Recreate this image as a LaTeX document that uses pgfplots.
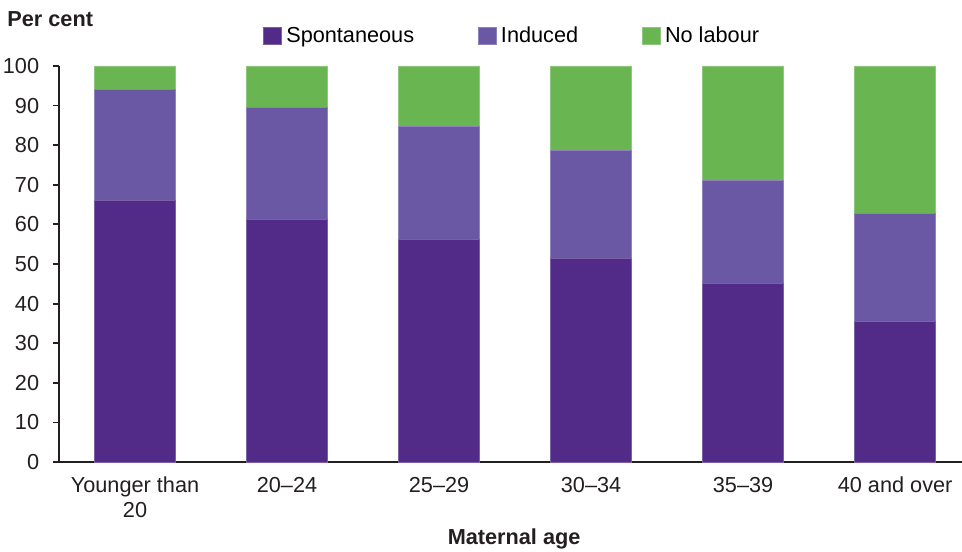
\documentclass[border=0pt]{standalone}
\usepackage{fontspec}
\setmainfont{Liberation Sans}
\usepackage{pgfplots}
\pgfplotsset{compat=1.18}
\definecolor{spont}{HTML}{522A88}
\definecolor{induced}{HTML}{6A58A5}
\definecolor{nolab}{HTML}{68B551}
\definecolor{axisgray}{HTML}{231F20}
\newcommand{\fs}{\fontsize{10.85}{12.5}\selectfont}
\begin{document}
\begin{tikzpicture}[x=1pt,y=1pt]
\useasboundingbox (-29.5,-44.5) rectangle (451.5,231);
\begin{axis}[
  at={(0pt,0pt)}, anchor=south west,
  width=451.5pt, height=198pt, scale only axis,
  xmin=-0.5, xmax=5.44, ymin=0, ymax=100,
  ybar stacked, bar width=40.5pt,
  xtick={0,1,2,3,4,5},
  xticklabels={{Younger than\\20},20–24,25–29,30–34,35–39,40 and over},
  xticklabel style={align=center, font=\fs, text=axisgray, yshift=-1pt},
  ytick={0,10,...,100},
  yticklabel style={font=\fs, text=axisgray, xshift=-3.4pt},
  /pgf/number format/assume math mode=true,
  axis x line*=bottom, axis y line*=left,
  axis line style={axisgray, line width=0.9pt},
  tick align=outside, major tick length=3pt,
  major x tick style={draw=none},
  y tick style={axisgray, line width=0.9pt},
  xlabel={Maternal age},
  xlabel style={at={(rel axis cs:0.504,0)}, anchor=base, yshift=-41pt, font=\bfseries\fs, text=axisgray},
  legend columns=3,
  legend style={at={(rel axis cs:0.226,1.075)}, anchor=west, draw=none, fill=none,
    font=\fs, inner sep=0pt,
    /tikz/every even column/.append style={column sep=30pt}},
  legend image code/.code={\fill[#1] (0pt,-4.25pt) rectangle (9pt,4.25pt);},
]
\addplot[fill=spont, draw=spont!75!white, line width=0.4pt] coordinates {(0,66.1) (1,61.2) (2,56.1) (3,51.3) (4,45.0) (5,35.4)};
\addplot[fill=induced, draw=induced!75!white, line width=0.4pt] coordinates {(0,27.9) (1,28.4) (2,28.7) (3,27.3) (4,26.0) (5,27.3)};
\addplot[fill=nolab, draw=nolab!75!white, line width=0.4pt] coordinates {(0,6.0) (1,10.4) (2,15.2) (3,21.4) (4,29.0) (5,37.3)};
\legend{Spontaneous, Induced, No labour}
\end{axis}
\node[anchor=base west, inner sep=0pt, font=\bfseries\fs, text=axisgray] at (-26,217.5) {Per cent};
\end{tikzpicture}
\end{document}
